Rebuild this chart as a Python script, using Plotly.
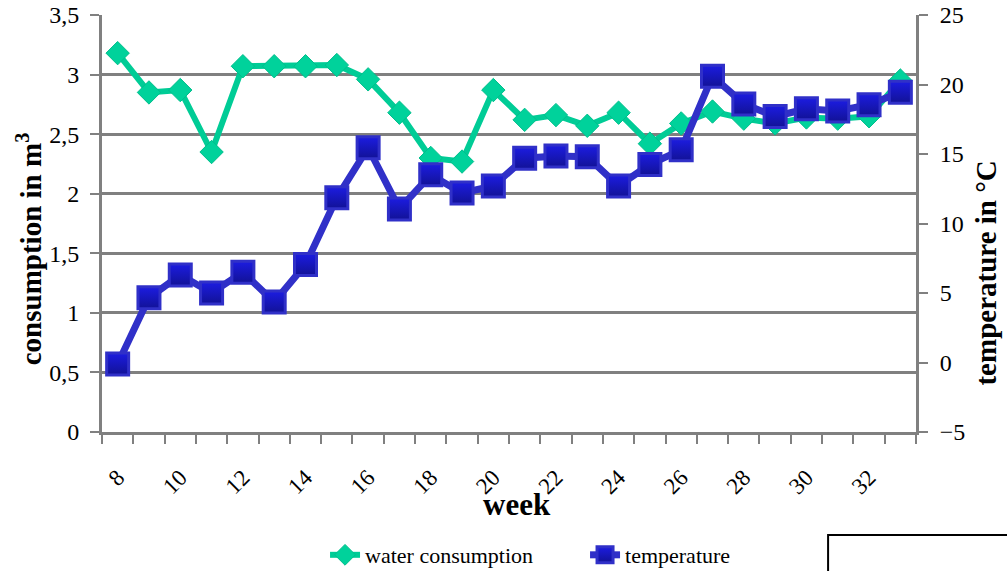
import plotly.graph_objects as go

# Weekly readings, weeks 8 to 33
weeks = list(range(8, 34))
water_consumption = [3.18, 2.85, 2.87, 2.35, 3.07, 3.07, 3.07, 3.08, 2.96, 2.68,
                     2.30, 2.27, 2.87, 2.62, 2.66, 2.57, 2.68, 2.42, 2.59, 2.69,
                     2.63, 2.59, 2.64, 2.63, 2.65, 2.95]
temperature = [-0.1, 4.65, 6.3, 5.0, 6.5, 4.35, 7.05, 11.85, 15.45, 11.05,
               13.5, 12.2, 12.7, 14.7, 14.85, 14.8, 12.7, 14.25, 15.3, 20.6,
               18.6, 17.7, 18.25, 18.1, 18.55, 19.45]
week_ticks = list(range(8, 33, 2))

GREEN = "rgb(0,204,150)"
BLUE_LINE = "rgb(48,48,200)"
GRAY = "#808080"
SERIF = "Liberation Serif"

fig = go.Figure()

fig.add_trace(go.Scatter(
    x=weeks, y=water_consumption, name="water consumption",
    mode="lines+markers",
    line=dict(color=GREEN, width=6),
    marker=dict(symbol="diamond", size=18, color="rgb(0,210,155)",
                line=dict(color="rgb(0,190,140)", width=1)),
))

fig.add_trace(go.Scatter(
    x=weeks, y=temperature, name="temperature", yaxis="y2",
    mode="lines+markers",
    line=dict(color=BLUE_LINE, width=7),
    marker=dict(symbol="square", size=22, color="rgb(28,28,225)",
                gradient=dict(type="vertical", color="rgb(18,18,150)"),
                line=dict(color=BLUE_LINE, width=3)),
))

fig.update_layout(
    width=1007, height=571,
    margin=dict(l=102, r=91, t=15, b=139, autoexpand=False),
    paper_bgcolor="white", plot_bgcolor="white",
    separators=", ",
    font=dict(family=SERIF, color="black"),
    showlegend=True,
    legend=dict(orientation="h", x=0.274, xanchor="left", y=-0.295, yanchor="middle",
                font=dict(family=SERIF, size=22), bgcolor="rgba(0,0,0,0)",
                entrywidth=215),
    xaxis=dict(
        range=[7.5, 33.5], tickmode="array", tickvals=week_ticks,
        tickangle=-45, tickfont=dict(family=SERIF, size=23),
        ticks="outside", ticklen=20, tickcolor="rgba(0,0,0,0)",
        showgrid=False, zeroline=False,
        showline=True, linecolor=GRAY, linewidth=3,
        minor=dict(tick0=7.5, dtick=1, ticks="outside", ticklen=9,
                   tickwidth=2, tickcolor=GRAY, showgrid=False),
    ),
    yaxis=dict(
        range=[0, 3.5], dtick=0.5, tick0=0,
        tickfont=dict(family=SERIF, size=24), ticklabelstandoff=6,
        ticks="outside", ticklen=9, tickwidth=2, tickcolor=GRAY,
        showgrid=True, gridcolor=GRAY, gridwidth=3,
        zeroline=False, showline=True, linecolor=GRAY, linewidth=3,
    ),
    yaxis2=dict(
        range=[-5, 25], dtick=5, tick0=-5, overlaying="y", side="right",
        tickfont=dict(family=SERIF, size=24), ticklabelstandoff=7,
        ticks="outside", ticklen=9, tickwidth=2, tickcolor=GRAY,
        showgrid=False, zeroline=False,
        showline=True, linecolor=GRAY, linewidth=3,
    ),
    annotations=[
        dict(text="<b>week</b>", xref="paper", yref="paper", x=0.51, y=-0.175,
             showarrow=False, font=dict(family=SERIF, size=31), yanchor="middle"),
        dict(text="<b>consumption in m<sup>3</sup></b>", xref="paper", yref="paper",
             x=-0.09, y=0.44, textangle=-90, showarrow=False,
             font=dict(family=SERIF, size=29), xanchor="center", yanchor="middle"),
        dict(text="<b>temperature in °C</b>", xref="paper", yref="paper",
             x=1.086, y=0.38, textangle=-90, showarrow=False,
             font=dict(family=SERIF, size=29), xanchor="center", yanchor="middle"),
    ],
    shapes=[
        dict(type="rect", xref="paper", yref="paper",
             x0=0.892, x1=1.2, y0=-0.247, y1=-0.5,
             line=dict(color="black", width=2), fillcolor="white"),
    ],
)

fig.write_html("out.html")
